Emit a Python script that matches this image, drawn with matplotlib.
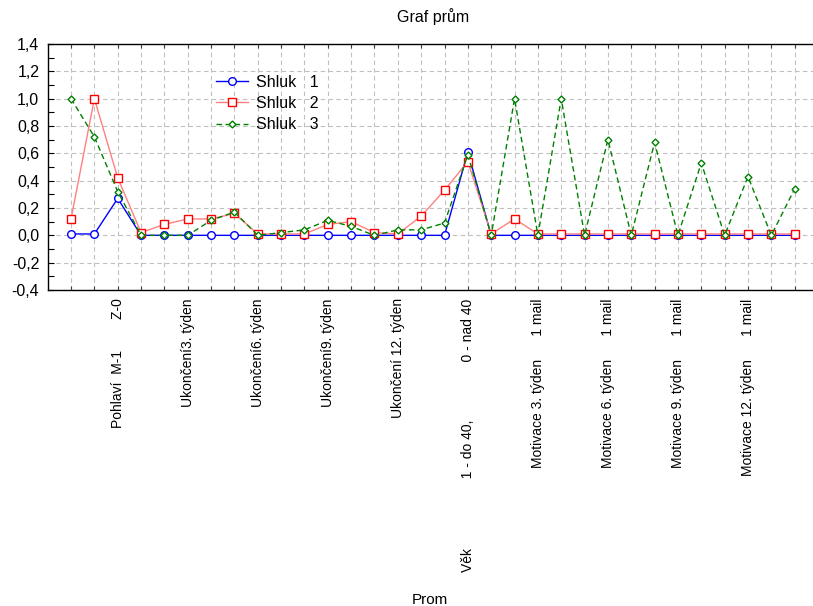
import matplotlib
matplotlib.use("Agg")
import matplotlib.pyplot as plt
from matplotlib.ticker import FuncFormatter, MultipleLocator

plt.rcParams['font.family'] = ['Liberation Sans', 'DejaVu Sans']

positions = list(range(1, 33))
shluk1 = [0.01, 0.01, 0.27, 0.0, 0.0, 0.0, 0.0, 0.0,
          0.0, 0.0, 0.0, 0.0, 0.0, 0.0, 0.0, 0.0,
          0.0, 0.61, 0.0, 0.0, 0.0, 0.0, 0.0, 0.0,
          0.0, 0.0, 0.0, 0.0, 0.0, 0.0, 0.0, 0.0]
shluk2 = [0.12, 1.0, 0.42, 0.02, 0.08, 0.12, 0.12, 0.16,
          0.01, 0.01, 0.01, 0.08, 0.10, 0.02, 0.01, 0.14,
          0.33, 0.54, 0.01, 0.12, 0.01, 0.01, 0.01, 0.01,
          0.01, 0.01, 0.01, 0.01, 0.01, 0.01, 0.01, 0.01]
shluk3 = [1.0, 0.72, 0.32, 0.0, 0.0, 0.0, 0.11, 0.17,
          0.0, 0.02, 0.04, 0.11, 0.065, 0.0, 0.04, 0.04,
          0.09, 0.59, 0.0, 1.0, 0.0, 1.0, 0.0, 0.70,
          0.0, 0.68, 0.0, 0.53, 0.0, 0.43, 0.0, 0.34]
series_names = ["Shluk   1", "Shluk   2", "Shluk   3"]

tick_labels = [""] * 32
tick_labels[2] = "Pohlaví  M-1" + " " * 8 + "Z-0"
tick_labels[5] = "Ukončení3. týden"
tick_labels[8] = "Ukončení6. týden"
tick_labels[11] = "Ukončení9. týden"
tick_labels[14] = "Ukončení 12. týden"
tick_labels[17] = "Věk" + " " * 18 + "1 - do 40," + " " * 15 + "0 - nad 40"
tick_labels[20] = "Motivace 3. týden" + " " * 6 + "1 mail"
tick_labels[23] = "Motivace 6. týden" + " " * 6 + "1 mail"
tick_labels[26] = "Motivace 9. týden" + " " * 6 + "1 mail"
tick_labels[29] = "Motivace 12. týden" + " " * 6 + "1 mail"

W, H = 813, 606
fig = plt.figure(figsize=(W / 100, H / 100), dpi=100)
left, right, top, bottom = 47.7, 818, 44, 290
ax = fig.add_axes([left / W, 1 - bottom / H, (right - left) / W, (bottom - top) / H])

ax.plot(positions, shluk1, color="#0000ff", lw=1.0, marker="o", ms=5.5,
        mfc="white", mec="#0000ff", mew=1.0, label=series_names[0], zorder=3)
ax.plot(positions, shluk2, color="#ff8080", lw=1.0, marker="s", ms=6,
        mfc="white", mec="#ff0000", mew=1.0, label=series_names[1], zorder=4)
ax.plot(positions, shluk3, color="#008000", lw=1.0, ls=(0, (4, 2.5)), marker="D", ms=3.5,
        mfc="white", mec="#008000", mew=1.0, label=series_names[2], zorder=5)

ax.set_xlim(0, 33)
ax.set_ylim(-0.4, 1.4)
ax.set_xticks(positions)
ax.set_xticklabels(tick_labels, rotation=90, fontsize=10)
ax.yaxis.set_major_locator(MultipleLocator(0.2))
ax.yaxis.set_minor_locator(MultipleLocator(0.1))
ax.yaxis.set_major_formatter(FuncFormatter(lambda v, p: f"{v:.1f}".replace(".", ",").replace("-0,0", "0,0")))
ax.tick_params(axis="y", which="both", direction="in", labelsize=11.5, length=4, width=0.8, pad=6)
ax.tick_params(axis="x", which="both", direction="in", top=True, length=3, width=0.8, color="#404040", pad=6)

ax.grid(True, color="#c0c0c0", ls=(0, (4, 3)), lw=0.8)
ax.set_axisbelow(True)
for s in ax.spines.values():
    s.set_linewidth(1.0)

ax.set_title("Graf prům", fontsize=11.5, pad=16)
fig.text(430 / W, 1 - 600 / H, "Prom", ha="center", va="center", fontsize=11)

leg = ax.legend(loc="upper left", bbox_to_anchor=((216 - left) / (right - left), (bottom - 75) / (bottom - top)),
                frameon=False, fontsize=11.5, handlelength=2.0, handletextpad=0.5,
                labelspacing=0.38, borderaxespad=0, borderpad=0)

fig.savefig("out.png", dpi=100)
